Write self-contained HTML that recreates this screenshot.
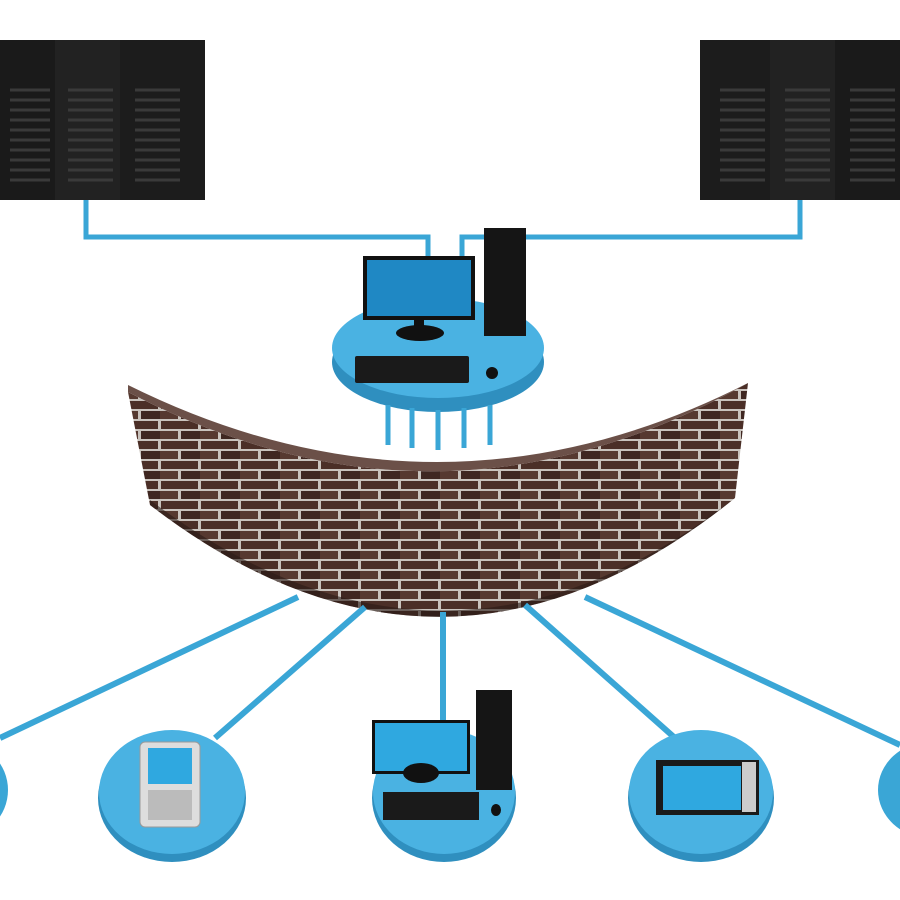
<!DOCTYPE html>
<html><head><style>html,body{margin:0;padding:0;background:#fff;}svg{display:block}</style></head>
<body>
<svg width="900" height="900" viewBox="0 0 900 900" xmlns="http://www.w3.org/2000/svg">
<defs>
<pattern id="brick" width="40" height="20" patternUnits="userSpaceOnUse">
<rect width="40" height="20" fill="#c9c3bd"/>
<rect x="1" y="1" width="37" height="8" fill="#4b2f27"/>
<rect x="-19" y="11" width="37" height="8" fill="#563930"/>
<rect x="21" y="11" width="37" height="8" fill="#3f2721"/>
</pattern>
<radialGradient id="sh" cx="50%" cy="50%" r="50%"><stop offset="0" stop-color="#dde4ea"/><stop offset="1" stop-color="#fff" stop-opacity="0"/></radialGradient>
</defs>
<rect width="900" height="900" fill="#fff"/>

<!-- top servers -->
<g fill="#1a1a1a">
<rect x="0" y="40" width="62" height="160"/>
<rect x="55" y="40" width="75" height="160" fill="#222"/>
<rect x="120" y="40" width="85" height="160" fill="#1c1c1c"/>
<rect x="700" y="40" width="80" height="160" fill="#1c1c1c"/>
<rect x="770" y="40" width="75" height="160" fill="#222"/>
<rect x="835" y="40" width="65" height="160"/>
</g>
<g stroke="#3a3a3a" stroke-width="3">
<path d="M10 90h40M10 100h40M10 110h40M10 120h40M10 130h40M10 140h40M10 150h40M10 160h40M10 170h40M10 180h40"/>
<path d="M68 90h45M68 100h45M68 110h45M68 120h45M68 130h45M68 140h45M68 150h45M68 160h45M68 170h45M68 180h45"/>
<path d="M135 90h45M135 100h45M135 110h45M135 120h45M135 130h45M135 140h45M135 150h45M135 160h45M135 170h45M135 180h45"/>
<path d="M720 90h45M720 100h45M720 110h45M720 120h45M720 130h45M720 140h45M720 150h45M720 160h45M720 170h45M720 180h45"/>
<path d="M785 90h45M785 100h45M785 110h45M785 120h45M785 130h45M785 140h45M785 150h45M785 160h45M785 170h45M785 180h45"/>
<path d="M850 90h45M850 100h45M850 110h45M850 120h45M850 130h45M850 140h45M850 150h45M850 160h45M850 170h45M850 180h45"/>
</g>

<!-- top cables -->
<g fill="none" stroke="#3aa6d6" stroke-width="5">
<path d="M86 200V237H428V270"/>
<path d="M800 200V237H462V270"/>
</g>

<!-- center disc -->
<ellipse cx="438" cy="362" rx="106" ry="50" fill="#2f8fbf"/>
<ellipse cx="438" cy="348" rx="106" ry="50" fill="#4ab2e2"/>
<g stroke="#3aa6d6" stroke-width="5">
<path d="M388 405v40M412 408v40M438 410v40M464 408v40M490 405v40"/>
</g>
<rect x="363" y="256" width="112" height="64" fill="#111"/>
<rect x="367" y="260" width="104" height="56" fill="#1f88c4"/>
<rect x="414" y="318" width="10" height="10" fill="#111"/>
<ellipse cx="420" cy="333" rx="24" ry="8" fill="#111"/>
<rect x="484" y="228" width="42" height="108" fill="#151515"/>
<rect x="355" y="356" width="114" height="27" rx="2" fill="#1a1a1a"/>
<ellipse cx="492" cy="373" rx="6" ry="6" fill="#111"/>

<!-- wall -->
<path d="M128 392 Q440 555 748 383 L735 498 Q445 732 150 505 Z" fill="url(#brick)"/>
<path d="M128 392 Q440 555 748 383 L748 383 Q440 540 128 385 Z" fill="#6b5048"/>
<path d="M150 505 Q445 732 735 498 L735 498 Q445 722 150 500 Z" fill="#2a1a16" opacity="0.6"/>

<!-- bottom cables -->
<g stroke="#3aa6d6" stroke-width="6" fill="none">
<path d="M298 597 L0 738"/>
<path d="M365 607 L215 738"/>
<path d="M443 612 V728"/>
<path d="M525 605 L675 738"/>
<path d="M585 597 L900 745"/>
</g>

<!-- bottom discs -->
<g>
<ellipse cx="172" cy="798" rx="74" ry="64" fill="#2f8fbf"/>
<ellipse cx="172" cy="792" rx="73" ry="62" fill="#4ab2e2"/>
<ellipse cx="444" cy="798" rx="72" ry="64" fill="#2f8fbf"/>
<ellipse cx="444" cy="792" rx="71" ry="62" fill="#4ab2e2"/>
<ellipse cx="701" cy="798" rx="73" ry="64" fill="#2f8fbf"/>
<ellipse cx="701" cy="792" rx="72" ry="62" fill="#4ab2e2"/>
<ellipse cx="930" cy="790" rx="52" ry="48" fill="#3aa6d6"/>
<ellipse cx="-40" cy="790" rx="48" ry="48" fill="#3aa6d6"/>
</g>
<!-- phone -->
<rect x="140" y="742" width="60" height="85" rx="5" fill="#ddd" stroke="#999"/>
<rect x="148" y="748" width="44" height="36" fill="#2fa8e0"/>
<g fill="#bbb"><rect x="148" y="790" width="44" height="30"/></g>
<!-- center pc -->
<rect x="372" y="720" width="98" height="54" fill="#111"/>
<rect x="375" y="723" width="92" height="48" fill="#2fa8e0"/>
<ellipse cx="421" cy="773" rx="18" ry="10" fill="#111"/>
<rect x="476" y="690" width="36" height="100" fill="#151515"/>
<rect x="383" y="792" width="96" height="28" fill="#1a1a1a"/>
<ellipse cx="496" cy="810" rx="5" ry="6" fill="#111"/>
<!-- tablet -->
<rect x="656" y="760" width="103" height="55" fill="#1a1a1a"/>
<rect x="663" y="766" width="78" height="44" fill="#2fa8e0"/>
<rect x="742" y="762" width="14" height="50" fill="#ccc"/>
</svg>
</body></html>
